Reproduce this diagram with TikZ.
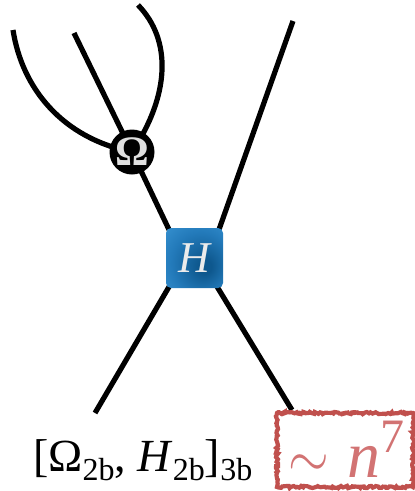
\documentclass[tikz,border=0pt]{standalone}
\usepackage{fontspec}
\setmainfont{Liberation Serif}
\usetikzlibrary{decorations.pathmorphing,backgrounds,calc}
\definecolor{hlight}{RGB}{62,155,218}
\definecolor{hmid}{RGB}{35,122,186}
\definecolor{hdark}{RGB}{14,88,142}
\definecolor{redbox}{RGB}{192,80,77}
\definecolor{redtext}{RGB}{210,115,115}
\pgfdeclareradialshading{hshade}{\pgfpoint{10bp}{-8bp}}{color(0bp)=(hdark); color(6bp)=(hdark); color(26bp)=(hmid); color(48bp)=(hlight); color(60bp)=(hlight)}
\newcommand\subsz[1]{\raisebox{-9pt}{\fontsize{32}{34}\selectfont #1}}
\tikzset{
  leg/.style={line width=5.2pt, black},
  omnode/.style={circle, fill=black, minimum size=45pt, inner sep=0pt, text=black!12,
    font=\fontsize{42}{46}\selectfont\bfseries},
  hnode/.style={rounded corners=5pt, shading=hshade, minimum width=57pt, minimum height=60pt,
    inner sep=0pt, text=black!8, font=\fontsize{44}{48}\selectfont\itshape},
  costbox/.style={draw=redbox, line width=4.2pt, decorate,
    decoration={random steps, segment length=1.8pt, amplitude=1.1pt}},
}
\begin{document}
\begin{tikzpicture}[x=1pt,y=-1pt]
\useasboundingbox (0,0) rectangle (415,491);
\node[omnode] (Om) at (132,152) {Ω};
\node[hnode] (H) at (194.5,258) {H};
\coordinate (c1) at (13,30);
\coordinate (c2) at (74,33);
\coordinate (c3) at (138,5);
\coordinate (tr) at (293,21);
\coordinate (bl) at (95,413);
\coordinate (br) at (292,410);
\coordinate (hin1) at (173,238);
\coordinate (hin2) at (216,238);
\coordinate (hin3) at (173,280);
\coordinate (hin4) at (213,280);
\begin{pgfonlayer}{background}
\draw[leg] (c1) .. controls (22,88) and (62,138) .. (Om.center);
\draw[leg] (c2) -- (Om.center) -- (hin1);
\draw[leg] (c3) .. controls (172,40) and (170,95) .. (Om.center);
\draw[leg] (tr) -- (hin2);
\draw[leg] (bl) -- (hin3);
\draw[leg] (br) -- (hin4);
\end{pgfonlayer}
\node[anchor=base west, inner sep=0pt, font=\fontsize{46}{50}\selectfont] (lab) at (33,471)
  {[Ω\subsz{2b}, \textit{H}\subsz{2b}]\subsz{3b}};
\draw[costbox] (277,413) rectangle (413,487);
\node[anchor=base west, inner sep=0pt, text=redtext, font=\fontsize{66}{70}\selectfont] (cost) at (288,477)
  {\scalebox{2.1}[2.5]{$\sim$}\hspace{19pt}\textit{n}\raisebox{25pt}{\fontsize{48}{50}\selectfont 7}};
\end{tikzpicture}
\end{document}
